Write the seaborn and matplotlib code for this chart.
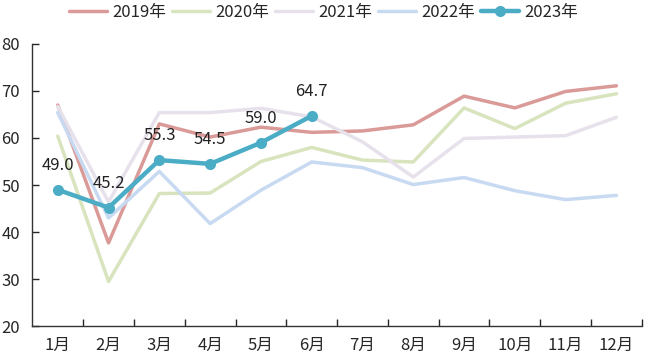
import numpy as np
import pandas as pd
import matplotlib
matplotlib.use("Agg")
import matplotlib.pyplot as plt
import seaborn as sns

# data
months = ['1月', '2月', '3月', '4月', '5月', '6月', '7月', '8月', '9月', '10月', '11月', '12月']
y2019 = [67.0, 37.7, 63.0, 60.2, 62.3, 61.2, 61.5, 62.8, 68.9, 66.4, 69.9, 71.1]
y2020 = [60.4, 29.5, 48.2, 48.3, 55.0, 58.0, 55.3, 54.9, 66.4, 62.0, 67.4, 69.4]
y2021 = [66.7, 46.4, 65.4, 65.4, 66.3, 64.5, 59.2, 51.7, 59.9, 60.2, 60.5, 64.4]
y2022 = [65.4, 43.0, 52.9, 41.8, 48.9, 54.9, 53.7, 50.1, 51.6, 48.8, 46.9, 47.8]
y2023 = [49.0, 45.2, 55.3, 54.5, 59.0, 64.7]

series = ['2019年', '2020年', '2021年', '2022年']
colors = ['#DA9A98', '#D8E4BE', '#E7E1EC', '#C8DAF1']
c2023 = '#4BACC6'

sns.set_style('white')
plt.rcParams['font.family'] = ['Noto Sans CJK SC', 'DejaVu Sans']

fig, ax = plt.subplots(figsize=(6.47, 3.6), dpi=100)
x = np.arange(len(months))

for name, vals, col in zip(series, [y2019, y2020, y2021, y2022], colors):
    df = pd.DataFrame({'x': x, 'v': vals})
    sns.lineplot(data=df, x='x', y='v', color=col, linewidth=2.5, label=name, ax=ax)

df23 = pd.DataFrame({'x': x[:len(y2023)], 'v': y2023})
sns.lineplot(data=df23, x='x', y='v', color=c2023, linewidth=3.2, marker='o',
             markersize=8, markeredgewidth=0, label='2023年', ax=ax)

for xi, v in zip(df23['x'], df23['v']):
    ax.annotate(f'{v:.1f}', (xi, v), xytext=(0, 11.5), textcoords='offset points',
                ha='center', va='bottom', fontsize=12, color='#222222')

ax.set_xlim(-0.5, 11.5)
ax.set_ylim(20, 80)
ax.set_yticks(range(20, 81, 10))
ax.set_xticks(x)
ax.set_xticklabels(months)
ax.set_xticks(np.arange(0.5, 11.6, 1), minor=True)
ax.tick_params(axis='x', which='major', length=0, labelsize=12, pad=8)
ax.tick_params(axis='x', which='minor', direction='in', length=5, width=1, bottom=True)
ax.tick_params(axis='y', direction='in', length=5, width=1, left=True, labelsize=12, pad=9)
ax.set_xlabel('')
ax.set_ylabel('')
for s in ['top', 'right']:
    ax.spines[s].set_visible(False)
for s in ['left', 'bottom']:
    ax.spines[s].set_color('#333333')
    ax.spines[s].set_linewidth(1)

handles, labels = ax.get_legend_handles_labels()
ax.get_legend().remove()
fig.legend(handles, labels, loc='center', bbox_to_anchor=(0.5, 0.965), ncol=5,
           frameon=False, fontsize=12, handlelength=2.3, columnspacing=0.35,
           handletextpad=0.3, borderaxespad=0)

plt.subplots_adjust(left=0.05, right=0.992, top=0.878, bottom=0.094)
plt.savefig('out.png', dpi=100)
